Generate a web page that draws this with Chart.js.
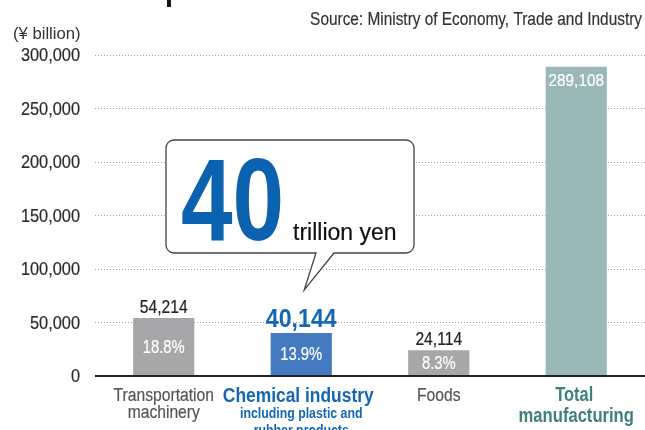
<!DOCTYPE html>
<html>
<head>
<meta charset="utf-8">
<title>Value of shipments</title>
<script src="https://cdn.jsdelivr.net/npm/chart.js@4/dist/chart.umd.min.js"></script>
<style>
  html, body { margin: 0; padding: 0; background: #fff; }
  #wrap { width: 645px; height: 430px; position: relative; }
</style>
</head>
<body>
<div id="wrap"><canvas id="chart"></canvas></div>
<script>
const categories = ['Transportation machinery', 'Chemical industry', 'Foods', 'Total manufacturing'];
const shipments = [54214, 40144, 24114, 289108];   // ¥ billion
const shares = ['18.8%', '13.9%', '8.3%', null];
const yTicks = [0, 50000, 100000, 150000, 200000, 250000, 300000];

const barColors = ['#a7a7a9', '#447abf', '#a7a7a9', '#9bb8b9'];
const FONT = '"Liberation Sans", Arial, sans-serif';
const BLUE = '#1467b5';
const TEAL = '#3f807c';

function fmt(n) {
  return n.toLocaleString('en-US');
}

// squeezed text: the face is condensed horizontally by sx,
// regular weight gets a hairline stroke so it reads a touch heavier
function text(ctx, str, x, y, size, opts) {
  const o = Object.assign({ bold: false, sx: 0.87, color: '#222', align: 'center', base: 'alphabetic', thicken: 0.2 }, opts);
  ctx.save();
  ctx.translate(x, y);
  ctx.scale(o.sx, 1);
  ctx.font = (o.bold ? 'bold ' : '') + size + 'px ' + FONT;
  ctx.fillStyle = o.color;
  ctx.textAlign = o.align;
  ctx.textBaseline = o.base;
  ctx.fillText(str, 0, 0);
  if (!o.bold && o.thicken > 0) {
    ctx.strokeStyle = o.color;
    ctx.lineWidth = o.thicken;
    ctx.strokeText(str, 0, 0);
  }
  ctx.restore();
}

const decorations = {
  id: 'decorations',
  afterDatasetsDraw(chart) {
    const ctx = chart.ctx;
    const x = chart.scales.x;
    const y = chart.scales.y;
    const area = chart.chartArea;
    const bars = chart.getDatasetMeta(0).data;
    const y0 = y.getPixelForValue(0);

    // headline sits mostly above the top edge
    text(ctx, 'Value of shipments', 5, -1, 36, { bold: true, sx: 0.8, color: '#111', align: 'left' });

    text(ctx, 'Source: Ministry of Economy, Trade and Industry', 642, 25, 18, { sx: 0.855, color: '#333', align: 'right' });
    text(ctx, '(\u00a5 billion)', 13, 39, 17, { sx: 0.98, color: '#333', align: 'left', thicken: 0 });

    // y tick labels
    y.ticks.forEach(t => {
      text(ctx, fmt(t.value), 80, y.getPixelForValue(t.value) + 1, 19, { sx: 0.86, color: '#2a2a2a', align: 'right', base: 'middle' });
    });

    // baseline at zero
    ctx.save();
    ctx.strokeStyle = '#222';
    ctx.lineWidth = 2;
    ctx.beginPath();
    ctx.moveTo(area.left, y0);
    ctx.lineTo(area.right, y0);
    ctx.stroke();
    ctx.restore();

    // values above the bars, shares inside
    bars.forEach((bar, i) => {
      const v = shipments[i];
      if (i === 3) {
        text(ctx, fmt(v), bar.x, bar.y + 19, 17, { sx: 0.9, color: '#fff' });
        return;
      }
      if (i === 1) {
        text(ctx, fmt(v), bar.x, bar.y - 6, 26, { bold: true, sx: 0.89, color: BLUE });
      } else {
        text(ctx, fmt(v), bar.x, bar.y - 5, 18, { color: '#222' });
      }
      text(ctx, shares[i], bar.x, (bar.y + y0) / 2 + 1, 18, { sx: 0.82, color: '#fff', base: 'middle' });
    });

    // category labels
    const cx = i => x.getPixelForValue(i);
    text(ctx, 'Transportation', cx(0), 396, 18, { color: '#555', base: 'middle' });
    text(ctx, 'machinery', cx(0), 413, 18, { color: '#555', base: 'middle' });
    text(ctx, 'Foods', cx(2), 396, 18, { color: '#555', base: 'middle' });

    text(ctx, 'Chemical industry', cx(1) - 3, 396, 20, { bold: true, color: BLUE, base: 'middle' });
    text(ctx, 'including plastic and', cx(1), 414, 14, { bold: true, sx: 0.88, color: BLUE, base: 'middle' });
    text(ctx, 'rubber products', cx(1), 431, 14, { bold: true, sx: 0.88, color: BLUE, base: 'middle' });

    text(ctx, 'Total', cx(3) - 2, 395, 20, { bold: true, sx: 0.82, color: TEAL, base: 'middle' });
    text(ctx, 'manufacturing', cx(3), 416, 20, { bold: true, sx: 0.83, color: TEAL, base: 'middle' });

    // speech bubble pointing at the chemical bar
    const bx = 166, by = 140, bw = 248, bh = 113, r = 8;
    const tipX = bars[1].x + 3, tipY = 290;
    ctx.save();
    ctx.beginPath();
    ctx.moveTo(bx + r, by);
    ctx.lineTo(bx + bw - r, by);
    ctx.arcTo(bx + bw, by, bx + bw, by + r, r);
    ctx.lineTo(bx + bw, by + bh - r);
    ctx.arcTo(bx + bw, by + bh, bx + bw - r, by + bh, r);
    ctx.lineTo(334, by + bh);
    ctx.lineTo(tipX, tipY);
    ctx.lineTo(316, by + bh);
    ctx.lineTo(bx + r, by + bh);
    ctx.arcTo(bx, by + bh, bx, by + bh - r, r);
    ctx.lineTo(bx, by + r);
    ctx.arcTo(bx, by, bx + r, by, r);
    ctx.closePath();
    ctx.fillStyle = '#fff';
    ctx.fill();
    ctx.strokeStyle = '#444';
    ctx.lineWidth = 1.3;
    ctx.stroke();
    ctx.restore();

    text(ctx, '40', 181, 240, 116, { bold: true, sx: 0.8, color: '#0b63b0', align: 'left' });
    text(ctx, 'trillion yen', 293, 240, 23, { sx: 1, color: '#111', align: 'left' });
  }
};

new Chart(document.getElementById('chart'), {
  type: 'bar',
  data: {
    labels: categories,
    datasets: [{
      data: shipments,
      backgroundColor: barColors,
      borderWidth: 0,
      barPercentage: 0.445,
      categoryPercentage: 1
    }]
  },
  options: {
    responsive: true,
    maintainAspectRatio: false,
    animation: false,
    layout: { padding: { top: 55, right: 0, left: 0, bottom: 0 } },
    plugins: {
      legend: { display: false },
      tooltip: { enabled: false }
    },
    scales: {
      x: {
        grid: { display: false },
        border: { display: false },
        ticks: { display: false },
        afterFit(scale) { scale.height = 54; }
      },
      y: {
        min: 0,
        max: 300000,
        afterBuildTicks(scale) {
          scale.ticks = yTicks.map(v => ({ value: v }));
        },
        afterFit(scale) { scale.width = 95; },
        grid: {
          drawTicks: false,
          color: '#a0a0a0',
          lineWidth: 1
        },
        border: { display: false, dash: [1, 2] },
        ticks: { display: false }
      }
    }
  },
  plugins: [decorations]
});
</script>
</body>
</html>
